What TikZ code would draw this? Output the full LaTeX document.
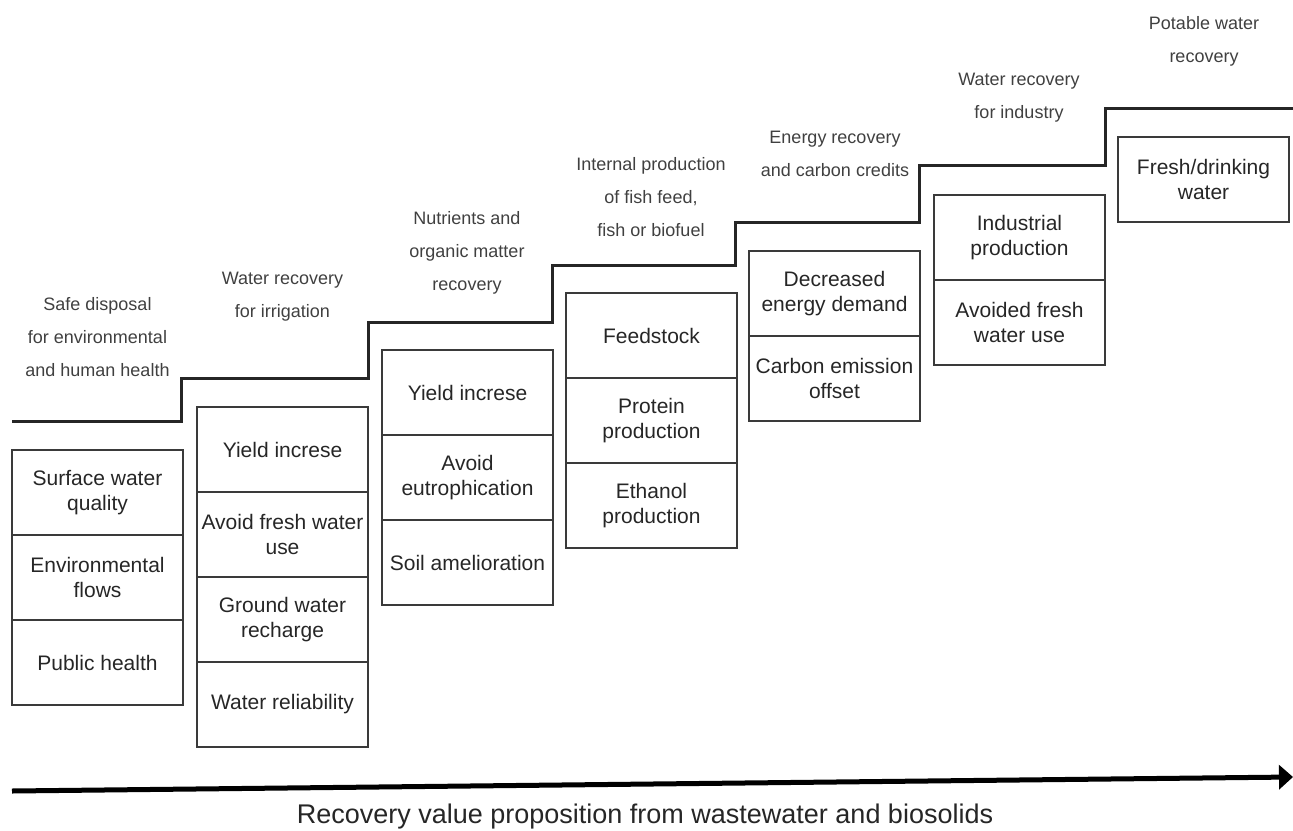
\documentclass[tikz,border=0pt]{standalone}
\usepackage{fontspec}
\setmainfont{Liberation Sans}
\usetikzlibrary{positioning,arrows.meta}
\definecolor{boxline}{HTML}{3A3A3A}
\definecolor{labtext}{HTML}{404040}
\tikzset{
  cell/.style={draw=boxline, line width=1.4pt, minimum width=171pt, minimum height=85pt,
    inner sep=0pt, outer sep=0pt, align=center, text=black!85, font=\fontsize{21}{25}\selectfont},
  steplabel/.style={align=center, text=labtext, font=\fontsize{18}{33}\selectfont},
  stepline/.style={line width=3pt, draw=black!85},
}

\begin{document}
\begin{tikzpicture}[x=1pt, y=-1pt, node distance=0pt]
  \useasboundingbox (0,0) rectangle (1293,830);

  % Staircase of recovery levels
  \draw[stepline] (12,421) -| (181,378) -| (368,322) -| (552,265) -| (735,222)
    -| (919,165) -| (1105,108) -- (1293,108);

  % Level labels
  \node[steplabel] (lab1) at (97.5,337) {Safe disposal\\for environmental\\and human health};
  \node[steplabel] (lab2) at (282.5,297) {Water recovery\\for irrigation};
  \node[steplabel] (lab3) at (467,253) {Nutrients and\\organic matter\\recovery};
  \node[steplabel] (lab4) at (651,197) {Internal production\\of fish feed,\\fish or biofuel};
  \node[steplabel] (lab5) at (835,154) {Energy recovery\\and carbon credits};
  \node[steplabel] (lab6) at (1019,98) {Water recovery\\for industry};
  \node[steplabel] (lab7) at (1204,41) {Potable water\\recovery};

  % Column 1
  \node[cell, anchor=north west] (surf) at (12,450) {Surface water\\quality};
  \node[cell, below=of surf] (envflow) {Environmental\\flows};
  \node[cell, below=of envflow] (pubhealth) {Public health};

  % Column 2
  \node[cell, anchor=north west] (yield) at (197,407) {Yield increse};
  \node[cell, below=of yield] (avoidfw) {Avoid fresh water\\use};
  \node[cell, below=of avoidfw] (groundw) {Ground water\\recharge};
  \node[cell, below=of groundw] (reliab) {Water reliability};

  % Column 3
  \node[cell, anchor=north west] (yieldnut) at (382,350) {Yield increse};
  \node[cell, below=of yieldnut] (eutro) {Avoid\\eutrophication};
  \node[cell, below=of eutro] (soil) {Soil amelioration};

  % Column 4
  \node[cell, anchor=north west] (feed) at (566,293) {Feedstock};
  \node[cell, below=of feed] (protein) {Protein\\production};
  \node[cell, below=of protein] (ethanol) {Ethanol\\production};

  % Column 5
  \node[cell, anchor=north west] (energy) at (749,251) {Decreased\\energy demand};
  \node[cell, below=of energy] (carbon) {Carbon emission\\offset};

  % Column 6
  \node[cell, anchor=north west] (industry) at (934,195) {Industrial\\production};
  \node[cell, below=of industry] (avoided) {Avoided fresh\\water use};

  % Column 7
  \node[cell, anchor=north west] (fresh) at (1118,137) {Fresh/drinking\\water};

  % Value axis
  \coordinate (axstart) at (12,791);
  \coordinate (axend) at (1293,777);
  \draw[line width=5pt, -{Triangle[length=14pt,width=24pt]}] (axstart) -- (axend);
  \node[font=\fontsize{27}{30}\selectfont, text=black!85] (caption) at (645,817)
    {Recovery value proposition from wastewater and biosolids};
\end{tikzpicture}
\end{document}
